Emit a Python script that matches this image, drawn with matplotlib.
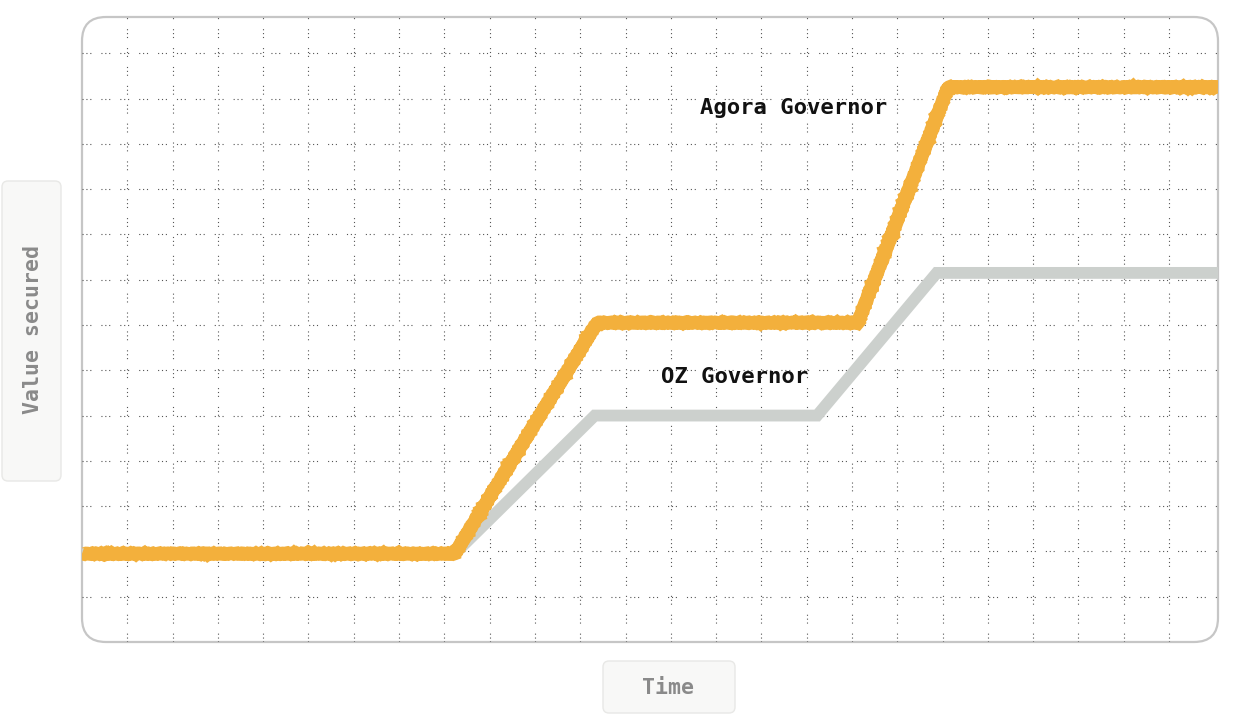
import matplotlib.pyplot as plt
from matplotlib.patches import FancyBboxPatch

# =======================
# Data (time in grid units, value in grid units)
# =======================
agora_x = [0, 8.23, 11.37, 17.13, 19.12, 25.08]
agora_y = [1.95, 1.95, 7.05, 7.05, 12.25, 12.25]

oz_x = [0, 8.23, 11.32, 16.23, 18.87, 25.08]
oz_y = [1.95, 1.95, 5.0, 5.0, 8.15, 8.15]

labels = ["Agora Governor", "OZ Governor"]
label_pos = [(15.7, 11.8), (14.4, 5.85)]

x_label = "Time"
y_label = "Value secured"

W, H = 1238, 714
fig = plt.figure(figsize=(W / 100, H / 100), dpi=100)
fig.patch.set_facecolor("white")

# background axes in pixel coordinates for the boxes
bg = fig.add_axes([0, 0, 1, 1])
bg.set_xlim(0, W)
bg.set_ylim(H, 0)
bg.axis("off")

frame = FancyBboxPatch((82, 17), 1136, 625,
                       boxstyle="round,pad=0,rounding_size=24",
                       facecolor="white", edgecolor="#c6c6c6", linewidth=1.6)
bg.add_patch(frame)

ybox = FancyBboxPatch((2, 181), 59, 300,
                      boxstyle="round,pad=0,rounding_size=6",
                      facecolor="#f8f8f7", edgecolor="#e8e8e6", linewidth=1)
bg.add_patch(ybox)
xbox = FancyBboxPatch((603, 661), 132, 52,
                      boxstyle="round,pad=0,rounding_size=6",
                      facecolor="#f8f8f7", edgecolor="#e8e8e6", linewidth=1)
bg.add_patch(xbox)

bg.text(33, 329, y_label, rotation=90, ha="center", va="center",
        fontsize=15.5, fontweight="bold", color="#8a8a8a",
        family="DejaVu Sans Mono")
bg.text(668, 688, x_label, ha="center", va="center",
        fontsize=15.5, fontweight="bold", color="#8a8a8a",
        family="DejaVu Sans Mono")

# =======================
# Main chart axes
# =======================
ax = fig.add_axes([82 / W, (H - 642) / H, 1136 / W, 625 / H])
ax.patch.set_alpha(0)
ax.set_xlim(0, 25.08)
ax.set_ylim(0, 13.8)
for s in ax.spines.values():
    s.set_visible(False)
ax.set_xticks(range(1, 25))
ax.set_yticks(range(1, 14))
ax.tick_params(length=0, labelbottom=False, labelleft=False)
ax.grid(True, color="#555555", linewidth=0.8,
        linestyle=(0, (1, 2.5, 1, 2.5, 1, 9)))

ax.plot(oz_x, oz_y, color="#ccd0cd", linewidth=8.5,
        solid_capstyle="butt", solid_joinstyle="miter", zorder=3)
agora_line, = ax.plot(agora_x, agora_y, color="#f3b03c", linewidth=9.5,
                      solid_capstyle="butt", solid_joinstyle="miter", zorder=4)
agora_line.set_sketch_params(scale=0.6, length=5, randomness=2)

for text, (tx, ty) in zip(labels, label_pos):
    ax.text(tx, ty, text, ha="center", va="center", fontsize=16,
            fontweight="bold", color="#111111", family="DejaVu Sans Mono",
            zorder=5)

fig.savefig("out.png", dpi=100)
